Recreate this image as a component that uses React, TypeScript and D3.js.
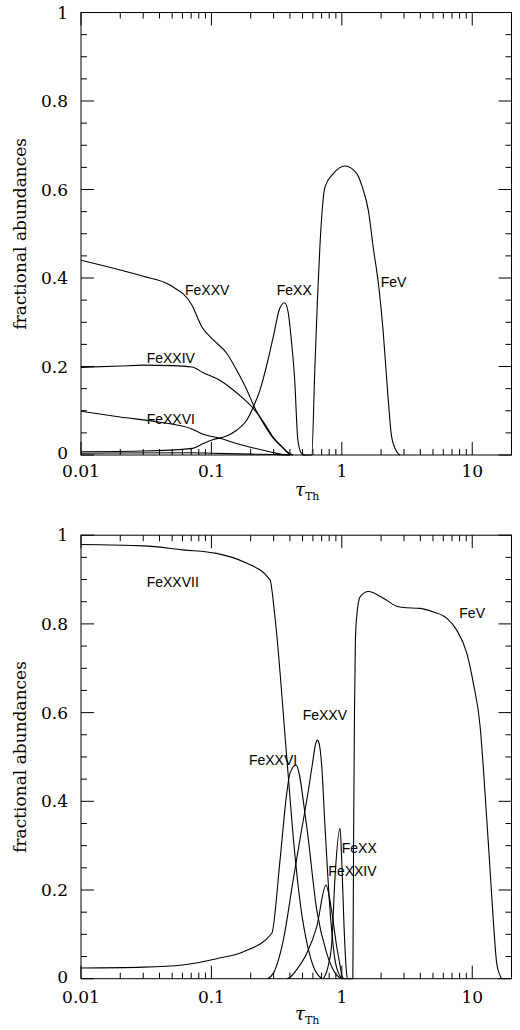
import React from "react";
import * as d3 from "d3";

const W = 520;
const H = 1030;

const X_DOMAIN = [0.01, 20];
const xMajorTicks = [0.01, 0.1, 1, 10];
const xTickLabels = ["0.01", "0.1", "1", "10"];
const yMajorTicks = [0, 0.2, 0.4, 0.6, 0.8, 1];
const yTickLabels = ["0", "0.2", "0.4", "0.6", "0.8", "1"];

// ---------- Top panel ----------
const topFeXXV_x = [0.01, 0.02, 0.03, 0.048, 0.0708, 0.0843, 0.1035, 0.131, 0.156, 0.187, 0.21, 0.25, 0.298, 0.356, 0.389, 0.42];
const topFeXXV_y = [0.44, 0.418, 0.404, 0.384, 0.339, 0.29, 0.26, 0.23, 0.192, 0.147, 0.113, 0.072, 0.038, 0.015, 0.004, 0];

const topFeXXIV_x = [0.01, 0.02, 0.03, 0.05, 0.0708, 0.0866, 0.116, 0.147, 0.175, 0.21, 0.25, 0.298, 0.356, 0.389, 0.42];
const topFeXXIV_y = [0.198, 0.201, 0.203, 0.202, 0.199, 0.186, 0.169, 0.147, 0.128, 0.105, 0.075, 0.04, 0.016, 0.005, 0];

const topFeXXVI_x = [0.01, 0.0199, 0.0404, 0.0708, 0.0866, 0.116, 0.156, 0.21, 0.28, 0.356, 0.4];
const topFeXXVI_y = [0.099, 0.086, 0.074, 0.059, 0.047, 0.038, 0.026, 0.016, 0.0075, 0.001, 0];

const topFeXX_x = [0.01, 0.03, 0.0716, 0.0866, 0.1035, 0.131, 0.156, 0.187, 0.21, 0.236, 0.264, 0.298, 0.334, 0.365, 0.389, 0.41, 0.435, 0.46, 0.49, 0.52];
const topFeXX_y = [0.0075, 0.009, 0.015, 0.026, 0.035, 0.043, 0.056, 0.079, 0.109, 0.147, 0.2, 0.267, 0.331, 0.344, 0.32, 0.26, 0.17, 0.034, 0.004, 0];

const topMinor_x = [0.01, 0.07, 0.1, 0.2, 0.3, 0.4];
const topMinor_y = [0.004, 0.005, 0.004, 0.002, 0.001, 0];

const topFeV_x = [0.5, 0.588, 0.62, 0.65, 0.68, 0.743, 0.861, 1.058, 1.301, 1.462, 1.597, 1.745, 1.906, 2.08, 2.27, 2.41, 2.64, 2.8];
const topFeV_y = [0, 0, 0.19, 0.35, 0.475, 0.606, 0.636, 0.653, 0.636, 0.598, 0.553, 0.467, 0.388, 0.275, 0.124, 0.041, 0.0075, 0];

// ---------- Bottom panel ----------
const botFeXXVII_x = [0.01, 0.03, 0.061, 0.1095, 0.176, 0.281, 0.307, 0.378, 0.43, 0.48, 0.55, 0.62, 0.7];
const botFeXXVII_y = [0.979, 0.976, 0.967, 0.959, 0.94, 0.9, 0.816, 0.5, 0.3, 0.17, 0.07, 0.02, 0];

const botFeXXVI_x = [0.01, 0.03, 0.06, 0.1095, 0.176, 0.29, 0.336, 0.378, 0.4, 0.445, 0.538, 0.642, 0.766, 0.914, 1.0];
const botFeXXVI_y = [0.024, 0.026, 0.031, 0.045, 0.061, 0.102, 0.268, 0.418, 0.463, 0.482, 0.343, 0.155, 0.057, 0.008, 0];

const botFeXXV_x = [0.27, 0.298, 0.356, 0.425, 0.478, 0.554, 0.599, 0.63, 0.649, 0.67, 0.701, 0.743, 0.812, 0.887, 0.969, 1.0];
const botFeXXV_y = [0, 0.012, 0.087, 0.225, 0.315, 0.425, 0.49, 0.53, 0.538, 0.53, 0.48, 0.343, 0.155, 0.042, 0.006, 0];

const botFeXXIV_x = [0.38, 0.4, 0.449, 0.538, 0.642, 0.756, 0.833, 0.914, 0.969, 0.998, 1.03];
const botFeXXIV_y = [0, 0.003, 0.02, 0.057, 0.117, 0.211, 0.155, 0.072, 0.03, 0.008, 0];

const botFeXX_x = [0.72, 0.788, 0.837, 0.887, 0.969, 0.998, 1.04, 1.077, 1.1];
const botFeXX_y = [0, 0.03, 0.08, 0.23, 0.339, 0.268, 0.117, 0.027, 0];

const botFeV_x = [1.0, 1.215, 1.23, 1.25, 1.27, 1.3, 1.38, 1.597, 2.08, 2.64, 2.96, 3.98, 5.04, 6.37, 7.6, 9.08, 10.2, 11.5, 12.2, 13.7, 14.5, 15.4, 16.3, 16.8];
const botFeV_y = [0, 0, 0.3, 0.6, 0.76, 0.816, 0.861, 0.873, 0.858, 0.84, 0.837, 0.835, 0.827, 0.813, 0.786, 0.734, 0.666, 0.568, 0.47, 0.245, 0.132, 0.035, 0.008, 0];

// ---------- Curve labels (data coordinates of text start / baseline) ----------
const topLabelNames = ["FeXXV", "FeXXIV", "FeXXVI", "FeXX", "FeV"];
const topLabelX = [0.0627, 0.0319, 0.0319, 0.317, 1.987];
const topLabelY = [0.361, 0.2077, 0.07, 0.361, 0.379];

const botLabelNames = ["FeXXVII", "FeV", "FeXXV", "FeXXVI", "FeXX", "FeXXIV"];
const botLabelX = [0.0319, 7.96, 0.501, 0.194, 0.998, 0.788];
const botLabelY = [0.883, 0.813, 0.583, 0.482, 0.283, 0.2316];

type Series = { xs: number[]; ys: number[] };

const topSeries: Series[] = [
  { xs: topFeXXV_x, ys: topFeXXV_y },
  { xs: topFeXXIV_x, ys: topFeXXIV_y },
  { xs: topFeXXVI_x, ys: topFeXXVI_y },
  { xs: topFeXX_x, ys: topFeXX_y },
  { xs: topMinor_x, ys: topMinor_y },
  { xs: topFeV_x, ys: topFeV_y },
];

const botSeries: Series[] = [
  { xs: botFeXXVII_x, ys: botFeXXVII_y },
  { xs: botFeXXVI_x, ys: botFeXXVI_y },
  { xs: botFeXXV_x, ys: botFeXXV_y },
  { xs: botFeXXIV_x, ys: botFeXXIV_y },
  { xs: botFeXX_x, ys: botFeXX_y },
  { xs: botFeV_x, ys: botFeV_y },
];

const LEFT = 81;
const RIGHT = 511.5;
const SERIF = "'DejaVu Serif', serif";
const SANS = "'Liberation Sans', Arial, sans-serif";

function minorXTicks(): number[] {
  const out: number[] = [];
  for (const d of xMajorTicks) {
    for (let k = 2; k <= 9; k++) {
      const v = k * d;
      if (v <= X_DOMAIN[1] + 1e-9) out.push(v);
    }
  }
  return out;
}

function minorYTicks(): number[] {
  const out: number[] = [];
  for (let i = 1; i < 20; i++) {
    if (i % 4 !== 0) out.push(i * 0.05);
  }
  return out;
}

function Panel({
  top,
  bottom,
  series,
  names,
  lx,
  ly,
  labelOffset,
}: {
  top: number;
  bottom: number;
  series: Series[];
  names: string[];
  lx: number[];
  ly: number[];
  labelOffset: number;
}) {
  const x = d3.scaleLog().domain(X_DOMAIN).range([LEFT, RIGHT]);
  const y = d3.scaleLinear().domain([0, 1]).range([bottom, top]);
  const line = d3
    .line<[number, number]>()
    .x((d) => x(d[0]))
    .y((d) => y(d[1]))
    .curve(d3.curveMonotoneX);

  const majLen = 13;
  const minLen = 6;
  const xmin = minorXTicks();
  const ymin = minorYTicks();
  const midY = (top + bottom) / 2;

  return (
    <g>
      <rect x={LEFT} y={top} width={RIGHT - LEFT} height={bottom - top} fill="none" stroke="#000" strokeWidth={1} />
      {xMajorTicks.map((t, i) => (
        <g key={"xm" + i}>
          <line x1={x(t)} x2={x(t)} y1={bottom} y2={bottom - majLen} stroke="#000" />
          <line x1={x(t)} x2={x(t)} y1={top} y2={top + majLen} stroke="#000" />
          <text x={x(t)} y={bottom + labelOffset} textAnchor="middle" fontFamily={SERIF} fontSize={17} fill="#000">
            {xTickLabels[i]}
          </text>
        </g>
      ))}
      {xmin.map((t, i) => (
        <g key={"xn" + i}>
          <line x1={x(t)} x2={x(t)} y1={bottom} y2={bottom - minLen} stroke="#000" />
          <line x1={x(t)} x2={x(t)} y1={top} y2={top + minLen} stroke="#000" />
        </g>
      ))}
      {yMajorTicks.map((t, i) => (
        <g key={"ym" + i}>
          <line x1={LEFT} x2={LEFT + majLen} y1={y(t)} y2={y(t)} stroke="#000" />
          <line x1={RIGHT} x2={RIGHT - majLen} y1={y(t)} y2={y(t)} stroke="#000" />
          <text x={68} y={y(t) + (t === 0 ? 4 : 6)} textAnchor="end" fontFamily={SERIF} fontSize={17} fill="#000">
            {yTickLabels[i]}
          </text>
        </g>
      ))}
      {ymin.map((t, i) => (
        <g key={"yn" + i}>
          <line x1={LEFT} x2={LEFT + minLen} y1={y(t)} y2={y(t)} stroke="#000" />
          <line x1={RIGHT} x2={RIGHT - minLen} y1={y(t)} y2={y(t)} stroke="#000" />
        </g>
      ))}
      {series.map((s, i) => (
        <path
          key={"s" + i}
          d={line(s.xs.map((v, j) => [v, s.ys[j]] as [number, number])) || ""}
          fill="none"
          stroke="#000"
          strokeWidth={1.1}
        />
      ))}
      {names.map((n, i) => (
        <text key={"l" + i} x={x(lx[i])} y={y(ly[i])} fontFamily={SANS} fontSize={14} fill="#000">
          {n}
        </text>
      ))}
      <text
        transform={`translate(26, ${midY}) rotate(-90)`}
        textAnchor="middle"
        fontFamily={SERIF}
        fontSize={17}
        fill="#000"
      >
        fractional abundances
      </text>
      <text x={295} y={bottom + 41} fontFamily={SERIF} fontSize={18} fontStyle="italic" fill="#000">
        τ
        <tspan fontSize={11} dy={4} fontStyle="normal">
          Th
        </tspan>
      </text>
    </g>
  );
}

export default function App() {
  return (
    <svg width={W} height={H} style={{ display: "block", position: "absolute", left: 0, top: 0, background: "#fff" }}>
      <rect x={0} y={0} width={W} height={H} fill="#fff" />
      <Panel
        top={12.5}
        bottom={455}
        series={topSeries}
        names={topLabelNames}
        lx={topLabelX}
        ly={topLabelY}
        labelOffset={22}
      />
      <Panel
        top={535.2}
        bottom={978.7}
        series={botSeries}
        names={botLabelNames}
        lx={botLabelX}
        ly={botLabelY}
        labelOffset={24}
      />
    </svg>
  );
}
